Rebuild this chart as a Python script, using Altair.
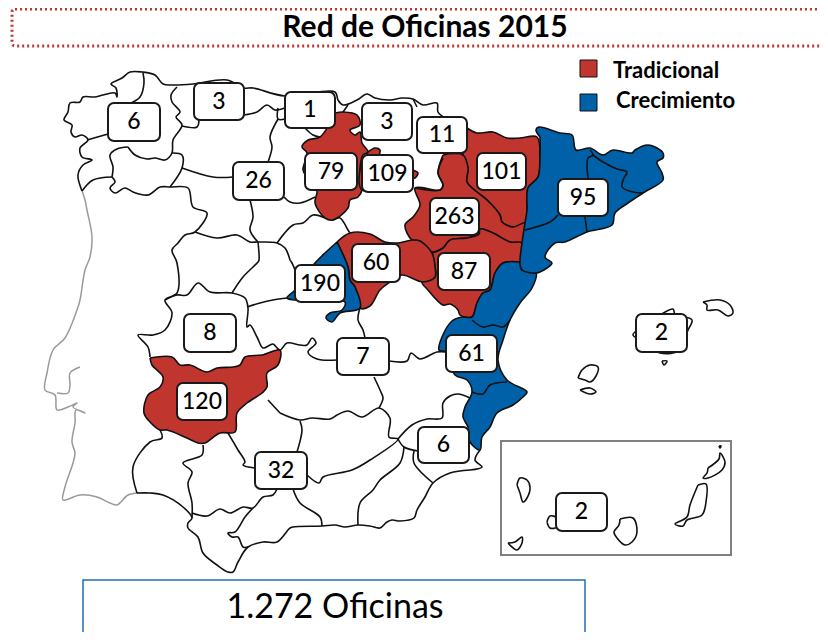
import altair as alt
import pandas as pd

RED = "#c1352f"
BLUE = "#0060a8"
FONT = "Lato"

red_regions = {
    "badajoz": [(150,358),(172,357),(180,365),(190,365),(207,372),(217,368),(233,367),(240,365),(245,357),(262,355),(280,350),(278,365),(267,373),(267,387),(262,393),(247,403),(237,413),(235,432),(220,433),(205,443),(198,443),(187,438),(167,430),(160,430),(150,422),(144,413),(148,395),(160,387),(163,377),(152,365)],
    "burgos": [(335,113),(343,112),(357,115),(360,125),(350,130),(355,135),(360,132),(362,143),(368,152),(363,155),(360,170),(362,190),(358,197),(350,200),(348,208),(333,220),(325,218),(315,203),(317,190),(307,177),(303,170),(307,153),(302,147),(308,140),(320,137)],
    "rioja": [(368,152),(375,148),(380,150),(380,155),(413,170),(418,173),(415,178),(413,178),(362,190),(360,170)],
    "huesca": [(467,128),(477,133),(493,132),(507,138),(520,138),(537,137),(540,157),(538,177),(528,188),(527,210),(525,223),(513,227),(502,222),(500,215),(487,200),(477,192),(467,182),(468,168),(463,155),(465,140)],
    "zaragoza": [(443,155),(463,155),(468,168),(467,182),(477,192),(487,200),(500,215),(502,222),(513,227),(525,223),(522,243),(510,242),(493,233),(480,229),(479,234),(467,238),(450,240),(443,248),(432,252),(420,241),(412,240),(405,225),(413,217),(420,205),(415,188),(440,190),(443,185),(438,173)],
    "teruel": [(432,253),(443,248),(450,240),(467,238),(479,234),(480,229),(493,233),(510,242),(522,243),(520,262),(503,263),(495,273),(490,290),(483,293),(477,303),(472,317),(460,315),(458,310),(450,304),(443,305),(428,290),(422,282),(435,277),(435,267)],
    "guadalajara": [(337,242),(350,233),(370,234),(385,242),(398,243),(412,240),(420,241),(432,253),(435,267),(435,277),(423,282),(402,275),(390,282),(380,290),(370,306),(360,308),(355,287),(350,280),(348,267)],
}
blue_regions = {
    "madrid": [(337,242),(325,253),(315,263),(305,275),(295,290),(287,298),(295,300),(345,302),(342,310),(330,313),(326,318),(332,322),(340,313),(360,308),(355,287),(350,280),(348,267)],
    "levante": [(520,262),(503,263),(495,273),(490,290),(483,293),(477,303),(472,317),(462,317),(452,321),(442,337),(439,350),(446,352),(455,375),(467,380),(472,392),(465,407),(463,417),(468,427),(470,442),(480,450),(482,437),(490,427),(497,413),(513,405),(523,397),(527,392),(507,380),(498,360),(503,340),(510,320),(520,303),(532,288),(536,273),(522,270)],
    "cataluna": [(540,137),(536,130),(539,127),(560,133),(572,135),(576,150),(590,148),(603,155),(613,150),(632,153),(635,150),(648,145),(657,148),(663,153),(663,158),(657,162),(662,173),(663,180),(643,193),(628,203),(615,213),(612,225),(587,232),(565,242),(555,243),(545,257),(552,263),(547,268),(536,273),(522,270),(520,263),(522,243),(525,223),(527,210),(528,188),(538,177),(540,157)],
}
black_lines = {
    "coast_n": [(82,191),(78,175),(83,165),(92,160),(82,157),(80,148),(88,140),(82,135),(75,137),(71,132),(72,125),(64,120),(68,112),(70,103),(80,102),(83,97),(95,97),(115,93),(117,97),(116,88),(111,84),(122,78),(130,72),(142,72),(155,75),(163,84),(173,85),(193,84),(227,80),(244,88),(253,88),(285,96),(335,92),(338,100),(343,105),(357,100),(367,94),(375,98),(390,100),(402,98),(413,99),(423,105),(437,103),(438,112),(445,118)],
    "coast_s": [(470,470),(450,473),(433,483),(425,497),(417,510),(414,518),(400,521),(392,520),(387,522),(380,528),(370,526),(358,525),(345,527),(335,525),(322,526),(293,527),(290,528),(277,542),(263,542),(248,547),(238,562),(233,572),(228,572),(217,565),(203,553),(198,537),(188,528),(188,523),(192,518),(183,507),(163,495),(150,493),(137,493)],
    "alicante_s": [(480,450),(475,460),(482,467),(470,470)],
    "pontevedra": [(82,191),(93,180),(112,177)],
    "frontier": [(112,177),(115,182),(110,188),(115,193),(125,188),(133,192),(148,195),(160,187),(170,187),(188,188),(193,207),(207,213),(195,232),(185,235),(178,243),(172,250),(177,263),(177,293),(165,300),(172,313),(165,330),(153,335),(138,335),(148,347),(150,357)],
    "frontier_s": [(160,430),(162,438),(150,442),(133,467),(137,493)],
    "ourense": [(128,147),(117,149),(110,155),(113,167),(112,177)],
    "lugo_s": [(128,147),(135,155),(147,159),(155,158),(165,160),(172,153),(173,140),(182,125),(176,117),(180,112),(172,102),(171,95),(177,87)],
    "lugo_w": [(143,73),(144,83),(140,97),(131,103)],
    "coruna_s": [(87,140),(108,134)],
    "leon_s": [(172,153),(182,155),(182,168),(170,187)],
    "leon_s2": [(182,168),(213,177),(233,177)],
    "leon_n": [(182,126),(197,127),(199,120)],
    "cantabria": [(244,115),(257,112),(267,105),(275,110),(285,108)],
    "palencia": [(278,108),(278,119),(285,119)],
    "palencia2": [(278,119),(270,137),(272,147),(268,162)],
    "zamora": [(250,200),(253,217),(250,230),(258,242)],
    "salamanca_n": [(195,232),(217,238),(237,235),(250,242),(258,242),(277,243),(285,248),(290,260)],
    "segovia": [(277,243),(293,225),(303,223),(313,215),(325,218)],
    "valladolid": [(284,197),(290,202),(300,203),(315,197)],
    "avila": [(258,242),(259,260),(258,262),(243,277),(232,293)],
    "avila_s": [(247,307),(260,303),(273,300),(287,298)],
    "avila_e": [(290,260),(292,263),(295,270)],
    "caceres": [(165,300),(177,295),(187,295),(198,283),(210,292),(232,293),(245,298),(248,308),(247,327),(250,325),(257,337),(263,348),(270,345),(273,344),(280,350),(287,343),(300,345),(307,345),(312,338),(316,343),(308,352),(317,359),(337,360)],
    "cr_n": [(389,361),(407,361),(411,353),(420,359),(437,352),(446,352)],
    "soria": [(333,220),(340,218),(348,230),(350,233)],
    "navarra": [(415,188),(440,190),(443,185),(438,173),(443,158)],
    "toledo_e": [(360,308),(358,320),(363,330),(365,338)],
    "cr_e": [(374,377),(380,390),(383,398),(379,408)],
    "cr_s": [(280,413),(300,420),(312,418),(330,419),(337,415),(348,411),(362,417),(379,408),(390,418),(389,437),(398,439),(370,460),(352,470),(323,477),(319,483),(307,475)],
    "cr_w": [(268,400),(280,413)],
    "jaen_w": [(300,421),(302,430),(297,452)],
    "albacete": [(398,439),(412,425),(427,419),(442,418),(443,403),(450,396),(458,394),(470,398)],
    "murcia": [(398,439),(404,447),(418,451)],
    "murcia2": [(404,447),(400,463),(380,480),(373,490),(360,503),(358,525)],
    "almeria": [(414,451),(414,463),(433,483)],
    "cordoba_e": [(228,433),(238,450),(245,462),(243,465),(255,468)],
    "huelva": [(203,445),(202,455),(183,463),(192,472),(188,483),(192,503),(192,518)],
    "sevilla_s": [(192,513),(207,516),(220,509),(230,513),(243,507),(253,508),(263,497),(273,495),(277,489)],
    "malaga": [(253,508),(245,517),(235,532),(228,533),(232,537),(238,537),(243,547),(248,547)],
    "granada_w": [(293,489),(300,503),(320,517),(322,526)],
    "valencia_n": [(472,320),(483,327),(493,325),(503,327),(510,320)],
    "valencia_s": [(472,392),(483,394),(490,385),(507,382)],
    "lleida": [(590,150),(593,155),(588,158),(588,178)],
    "girona": [(593,155),(603,162),(617,169),(627,172),(624,178),(622,187),(633,192),(643,193)],
    "lleida_s": [(525,230),(550,222),(558,215)],
    "barna_s": [(585,217),(587,232)],
    "alava": [(343,112),(348,105)],
    "guipuz": [(413,99),(417,107)],
    "cant_e": [(305,128),(313,135),(320,137)],
    "menorca": [(703,302),(720,300),(730,305),(733,313),(728,316),(718,310),(707,310),(707,305),(703,302)],
    "mallorca": [(636,331),(660,315),(673,309),(675,314),(692,320),(688,330),(680,350),(660,353),(640,340),(633,335),(636,331)],
    "ibiza": [(578,378),(582,370),(590,365),(598,367),(596,376),(590,382),(585,380),(578,378)],
    "formentera": [(580,390),(590,388),(596,392),(590,394),(580,390)],
    "cabrera": [(662,361),(667,361),(664,365),(662,361)],
    "palma": [(517,485),(520,478),(527,480),(530,487),(527,498),(523,502),(520,493),(517,485)],
    "gomera": [(547,522),(550,516),(557,518),(557,527),(550,528),(547,522)],
    "hierro": [(508,543),(515,542),(522,537),(522,543),(517,550),(512,547),(508,543)],
    "canaria": [(620,519),(633,518),(637,532),(632,542),(625,545),(617,538),(614,532),(619,525),(620,519)],
    "fuerte": [(698,485),(706,484),(706,502),(702,515),(687,520),(683,526),(675,524),(687,517),(690,505),(698,485)],
    "lanza": [(708,468),(719,459),(720,453),(725,462),(722,470),(708,478),(703,478),(707,473),(708,468)],
    "graciosa": [(719,446),(721,446),(720,448),(719,446)],
}
gray_lines = {
    "portugal": [(138,493),(128,495),(117,505),(110,503),(97,497),(80,495),(63,500),(65,487),(73,463),(75,453),(72,442),(75,423),(76,410),(85,413),(73,407),(77,403),(68,407),(57,410),(55,395),(45,390),(47,373),(53,350),(65,338),(77,310),(80,300),(85,270),(90,257),(92,237),(87,210),(85,200),(82,191)],
    "tajo": [(57,393),(68,393),(70,385),(70,373),(80,367)],
}

box_labels = ["6","3","1","3","11","79","109","101","263","26","95","60","87","190","8","2","7","61","120","6","32","2"]
box_x1 = [108,194,285,362,417,305,362,477,430,233,558,352,438,295,184,636,337,446,177,418,255,556]
box_x2 = [160,244,335,412,467,357,413,526,479,284,608,400,490,345,236,687,389,497,227,469,307,607]
box_y1 = [103,83,92,103,117,153,155,153,198,162,179,244,253,265,314,314,338,335,383,427,452,493]
box_y2 = [141,120,128,140,153,190,192,190,235,200,216,282,290,302,352,352,375,372,420,463,489,531]


def table(groups, close=False):
    rows = []
    for name, pts in groups.items():
        seq = list(pts) + ([pts[0]] if close else [])
        for i, (px, py) in enumerate(seq):
            rows.append({"g": name, "i": i, "x": px, "y": py})
    return pd.DataFrame(rows)


X = alt.X("x:Q", scale=alt.Scale(domain=[8, 820], nice=False, zero=False), axis=None)
Y = alt.Y("y:Q", scale=alt.Scale(domain=[632, 8], nice=False, zero=False), axis=None)


def path(df, **kw):
    return alt.Chart(df).mark_line(strokeJoin="round", interpolate="catmull-rom", **kw).encode(
        x=X, y=Y, detail="g:N", order="i:Q")


def rect(df, **kw):
    return alt.Chart(df).mark_rect(**kw).encode(x=X, x2="x2:Q", y=Y, y2="y2:Q")


def text(df, **kw):
    return alt.Chart(df).mark_text(font=FONT, **kw).encode(x=X, y=Y, text="t:N")


boxes = pd.DataFrame({"x": box_x1, "x2": box_x2, "y": box_y1, "y2": box_y2})
box_text = pd.DataFrame({
    "x": [(a + b) / 2 for a, b in zip(box_x1, box_x2)],
    "y": [(a + b) / 2 for a, b in zip(box_y1, box_y2)],
    "t": box_labels,
})

layers = [
    path(table(red_regions, True), fill=RED, stroke="#111111", strokeWidth=1.6),
    path(table(blue_regions, True), fill=BLUE, stroke="#111111", strokeWidth=1.6),
    path(table(gray_lines), stroke="#9a9a9a", strokeWidth=1.5),
    path(table(black_lines), stroke="#111111", strokeWidth=1.6),
    rect(pd.DataFrame({"x": [501], "x2": [731], "y": [441], "y2": [555]}), fill="transparent", stroke="#808080", strokeWidth=2),
    rect(boxes, fill="white", stroke="#1a1a1a", strokeWidth=2, cornerRadius=6),
    text(box_text, fontSize=23, fontWeight=500, color="#000000", align="center", baseline="middle"),
    rect(pd.DataFrame({"x": [12], "x2": [840], "y": [9], "y2": [46]}), fill="transparent", stroke="#c1352f", strokeWidth=3, strokeDash=[2, 3], cornerRadius=3),
    text(pd.DataFrame({"x": [425], "y": [28], "t": ["Red de Oficinas 2015"]}), fontSize=30, fontWeight="bold", color="#000000", align="center", baseline="middle"),
    rect(pd.DataFrame({"x": [580], "x2": [597], "y": [60], "y2": [77]}), fill=RED, stroke="#111111", strokeWidth=1),
    rect(pd.DataFrame({"x": [580], "x2": [597], "y": [94], "y2": [111]}), fill=BLUE, stroke="#111111", strokeWidth=1),
    text(pd.DataFrame({"x": [613], "y": [71], "t": ["Tradicional"]}), fontSize=22, fontWeight="bold", color="#000000", align="left", baseline="middle"),
    text(pd.DataFrame({"x": [616], "y": [101], "t": ["Crecimiento"]}), fontSize=22, fontWeight="bold", color="#000000", align="left", baseline="middle"),
    rect(pd.DataFrame({"x": [83], "x2": [585], "y": [580], "y2": [670]}), fill="white", stroke="#1f6fb5", strokeWidth=1.5),
    text(pd.DataFrame({"x": [335], "y": [608], "t": ["1.272 Oficinas"]}), fontSize=34, color="#000000", align="center", baseline="middle"),
]

chart = alt.layer(*layers).properties(
    width=812, height=624, padding=0,
    autosize=alt.AutoSizeParams(type="none"),
).configure_view(stroke=None)

chart.save("out.html", embed_options={"renderer": "svg", "actions": False})
